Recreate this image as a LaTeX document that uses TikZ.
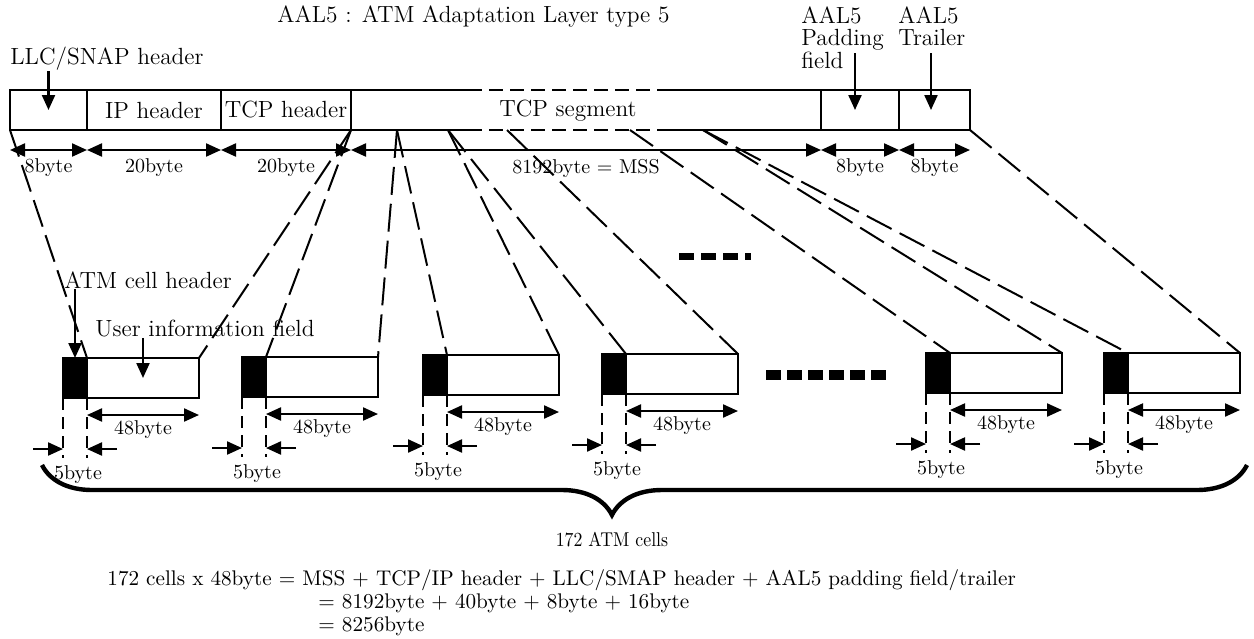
\documentclass[tikz,border=0pt]{standalone}
\usetikzlibrary{arrows.meta,decorations.pathreplacing,calc}
\begin{document}
\begin{tikzpicture}[x=0.5pt,y=-0.5pt,
  atip/.tip={Triangle[length=7.5pt,width=6.5pt]},
  field/.style={draw,line width=1.1pt,outer sep=0pt,minimum height=20pt,inner sep=0pt,font=\fontsize{11.7}{13}\selectfont},
  lbl/.style={inner sep=0pt,font=\fontsize{11.7}{13}\selectfont},
  small/.style={inner sep=0pt,font=\fontsize{10}{12}\selectfont},
  eqn/.style={inner sep=0pt,font=\fontsize{10.6}{12}\selectfont},
  conn/.style={line width=1pt,dash pattern=on 14pt off 4.5pt},
  segdash/.style={line width=1.1pt,dash pattern=on 7pt off 3.5pt},
  solidln/.style={line width=1.1pt},
  dimarr/.style={line width=1.1pt,atip-atip},
  onearr/.style={line width=1.1pt,-atip},
  hdr/.style={draw,fill=black,line width=1.1pt,outer sep=0pt,minimum width=12pt,minimum height=20pt,inner sep=0pt},
  usr/.style={draw,line width=1.1pt,outer sep=0pt,minimum width=56pt,minimum height=20pt,inner sep=0pt},
  vdash/.style={line width=1pt,dash pattern=on 6pt off 3.5pt},
  bigdash/.style={line width=3.5pt,dash pattern=on 7.5pt off 3.5pt},
  biggerdash/.style={line width=5pt,dash pattern=on 7.5pt off 3pt},
  bracestyle/.style={line width=2.2pt,decorate,decoration={brace,amplitude=25pt,aspect=0.527}},
]
\useasboundingbox (0,0) rectangle (1254,638);

% title and labels
\node[lbl] (title) at (473.5,17) {AAL5 : ATM Adaptation Layer type 5};
\node[lbl,anchor=west] (llcl) at (10,59) {LLC/SNAP header};
\node[lbl,anchor=north west,align=left,font=\fontsize{11.7}{11.3}\selectfont] (padl) at (801,6) {AAL5\\Padding\\field};
\node[lbl,anchor=north west,align=left,font=\fontsize{11.7}{11.3}\selectfont] (trll) at (898,6) {AAL5\\Trailer};

% top frame
\node[field,minimum width=38.5pt] (llc) at (48.5,110) {};
\node[field,minimum width=67pt] (ip) at (154,110) {IP header};
\node[field,minimum width=65pt] (tcph) at (286,110) {TCP header};
\node[minimum width=235pt,minimum height=20pt,inner sep=0pt,outer sep=0pt] (seg) at (586,110) {};
\node[field,minimum width=39pt] (pad) at (860,110) {};
\node[field,minimum width=35.5pt] (trl) at (934.5,110) {};
\node[lbl] (segt) at (568,111) {TCP segment};

\coordinate (sa) at (468,90);
\coordinate (sb) at (660,90);
\coordinate (sc) at (468,130);
\coordinate (sd) at (660,130);
\draw[solidln] (tcph.north east) -- (sa);
\draw[segdash] (sa) -- (sb);
\draw[solidln] (sb) -- (pad.north west);
\draw[solidln] (tcph.south east) -- (sc);
\draw[segdash] (sc) -- (sd);
\draw[solidln] (sd) -- (pad.south west);

% label arrows
\draw[onearr] (llcl.south -| llc.center) -- (llc.center);
\coordinate (pa) at (855,53);
\coordinate (ta) at (931,53);
\draw[onearr] (pa) -- (pa |- pad.center);
\draw[onearr] (ta) -- (ta |- trl.center);

% dimensions of top frame
\foreach \n/\t in {llc/8byte, ip/20byte, tcph/20byte, seg/{8192byte = MSS}, pad/8byte, trl/8byte}{
  \draw[dimarr] ($(\n.south west)+(0,20)$) -- ($(\n.south east)+(0,20)$);
  \node[small] (dl\n) at ($(\n.south)+(0,38)$) {\t};
}

% cells
\foreach \i/\hx/\ty in {1/63/358,2/242/357,3/423/355,4/602/354,5/926/353,6/1104/353}{
  \node[hdr,anchor=north west] (h\i) at (\hx,\ty) {};
  \node[usr,anchor=north west] (u\i) at (\hx+24,\ty) {};
  \draw[vdash] (h\i.south west) -- ++(0,60);
  \draw[vdash] (h\i.south east) -- ++(0,60);
  \draw[dimarr] ($(u\i.south west)+(0,17)$) -- ($(u\i.south east)+(0,17)$);
  \node[small] (b48\i) at ($(u\i.south)+(0,32)$) {48byte};
  \draw[onearr] ($(h\i.south west)+(-30,51)$) -- ($(h\i.south west)+(0,51)$);
  \draw[onearr] ($(h\i.south east)+(30,51)$) -- ($(h\i.south east)+(0,51)$);
  \node[small] (b5\i) at ($(h\i.south)+(3,77)$) {5byte};
}

% cell labels
\node[lbl] (atml) at (148,280) {ATM cell header};
\draw[onearr] (atml.south -| h1.north) -- (h1.north);
\node[lbl] (uifl) at (205,329) {User information field};
\draw[onearr] (uifl.south -| u1.north) -- (u1.center);

% connectors
\coordinate (p1) at (397,130);
\coordinate (p2) at (448,130);
\coordinate (p3) at (507,130);
\coordinate (p4) at (630,130);
\coordinate (p5) at (703,130);
\draw[conn] (llc.south west) -- (u1.north west);
\draw[conn] (tcph.south east) -- (u1.north east);
\draw[conn] (tcph.south east) -- (u2.north west);
\draw[conn] (p1) -- (u2.north east);
\draw[conn] (p1) -- (u3.north west);
\draw[conn] (p2) -- (u3.north east);
\draw[conn] (p2) -- (u4.north west);
\draw[conn] (p3) -- (u4.north east);
\draw[conn] (p4) -- (u5.north west);
\draw[conn] (p5) -- (u5.north east);
\draw[conn] (p5) -- (u6.north west);
\draw[conn] (trl.south east) -- (u6.north east);

% ellipses
\draw[bigdash] (679,256) -- (751,256);
\draw[biggerdash] (766,375) -- (889,375);

% brace
\draw[bracestyle] (1247,465) -- (42,465);
\node[small] (cells) at (612,540) {\scalebox{0.89}[1]{172 ATM cells}};

% equations
\node[eqn,anchor=base west] (e1) at (107,585) {172 cells x 48byte = MSS + TCP/IP header + LLC/SMAP header + AAL5 padding field/trailer};
\node[eqn,anchor=base west] (e2) at (318,608) {= 8192byte + 40byte + 8byte + 16byte};
\node[eqn,anchor=base west] (e3) at (318,631) {= 8256byte};
\end{tikzpicture}
\end{document}
